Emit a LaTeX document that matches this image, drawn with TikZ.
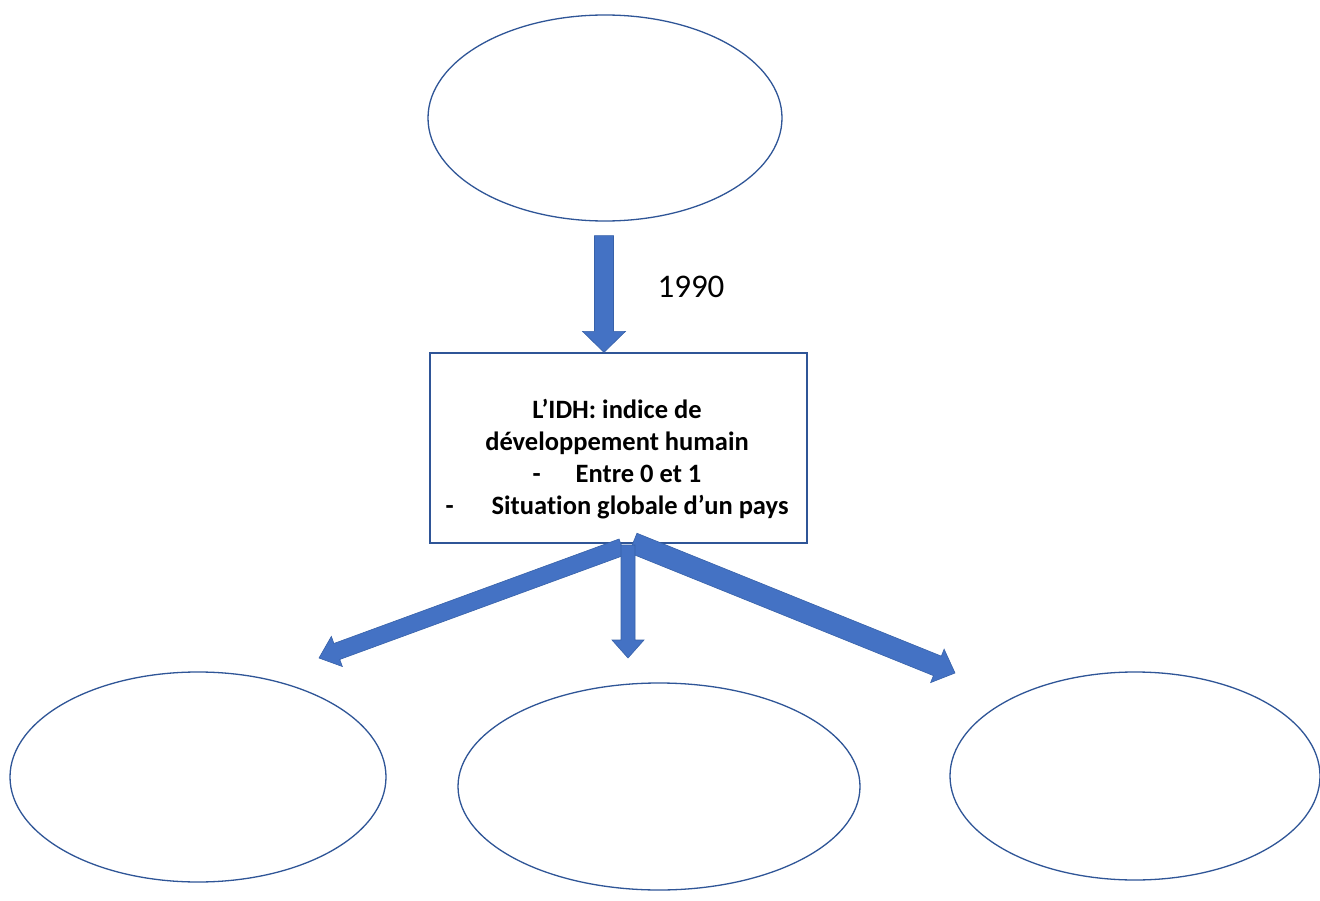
\documentclass[tikz,border=0pt]{standalone}
\usepackage{fontspec}
\setmainfont{Carlito}[Ligatures=NoCommon]
\usetikzlibrary{shapes.geometric,calc}
\definecolor{arrowblue}{HTML}{4472C4}
\definecolor{edgeblue}{HTML}{2F5597}
\tikzset{
  bubble/.style={ellipse, draw=edgeblue, line width=1.3pt, inner sep=0pt},
  infobox/.style={rectangle, draw=edgeblue, line width=1.3pt, inner sep=0pt,
    minimum width=377pt, minimum height=190pt},
  blockarrow/.style={fill=arrowblue, draw=edgeblue!60!arrowblue, line width=0.6pt, line join=miter},
  boxtext/.style={font=\bfseries\fontsize{26.5}{32}\selectfont, align=center, inner sep=0pt},
  yeartext/.style={font=\fontsize{33}{40}\selectfont, anchor=base, inner sep=0pt}
}
% #1 from, #2 to, #3 half shaft width, #4 half head width, #5 head length
\newcommand\blockarr[5]{%
  \coordinate (ba-h) at ($(#2)!#5!(#1)$);
  \filldraw[blockarrow] ($(#1)!#3!90:(#2)$) -- ($(ba-h)!#3!90:(#2)$)
    -- ($(ba-h)!#4!90:(#2)$) -- (#2) -- ($(ba-h)!#4!-90:(#2)$)
    -- ($(ba-h)!#3!-90:(#2)$) -- ($(#1)!#3!-90:(#2)$) -- cycle;
}
\begin{document}
\begin{tikzpicture}[x=1pt,y=-1pt]
\useasboundingbox (0,0) rectangle (1320,901);
\fill[white] (0,0) rectangle (1320,901);

\node[bubble, minimum width=354pt, minimum height=206pt] (top) at (605,118) {};
\node[infobox] (idh) at (618.5,448) {};
\node[boxtext] (idhtxt) at (617,459) {L’IDH: indice de\\ développement humain\\
  -\hspace{35pt}Entre 0 et 1\\ -\hspace{38pt}Situation globale d’un pays};
\node[bubble, minimum width=376pt, minimum height=210pt] (left) at (198,777) {};
\node[bubble, minimum width=402pt, minimum height=207pt] (mid) at (659,786.5) {};
\node[bubble, minimum width=370pt, minimum height=208pt] (right) at (1135,776) {};
\node[yeartext] (year) at (691,298) {1990};

% top arrow
\coordinate (t1) at ($(top.south)+(-1,14)$);
\coordinate (t2) at (idh.north -| t1);
\blockarr{t1}{t2}{9.5pt}{21.5pt}{21pt}

% bottom arrows
\coordinate (lsrc) at (622,547);
\coordinate (ltip) at (319,658);
\coordinate (msrc) at (628,545);
\coordinate (mtip) at (628,658);
\coordinate (rsrc) at (633,543);
\coordinate (rtip) at (955,673);
\blockarr{lsrc}{ltip}{8.5pt}{16pt}{19pt}
\blockarr{rsrc}{rtip}{10.5pt}{18pt}{19pt}
\blockarr{msrc}{mtip}{7pt}{16pt}{18pt}
\end{tikzpicture}
\end{document}
